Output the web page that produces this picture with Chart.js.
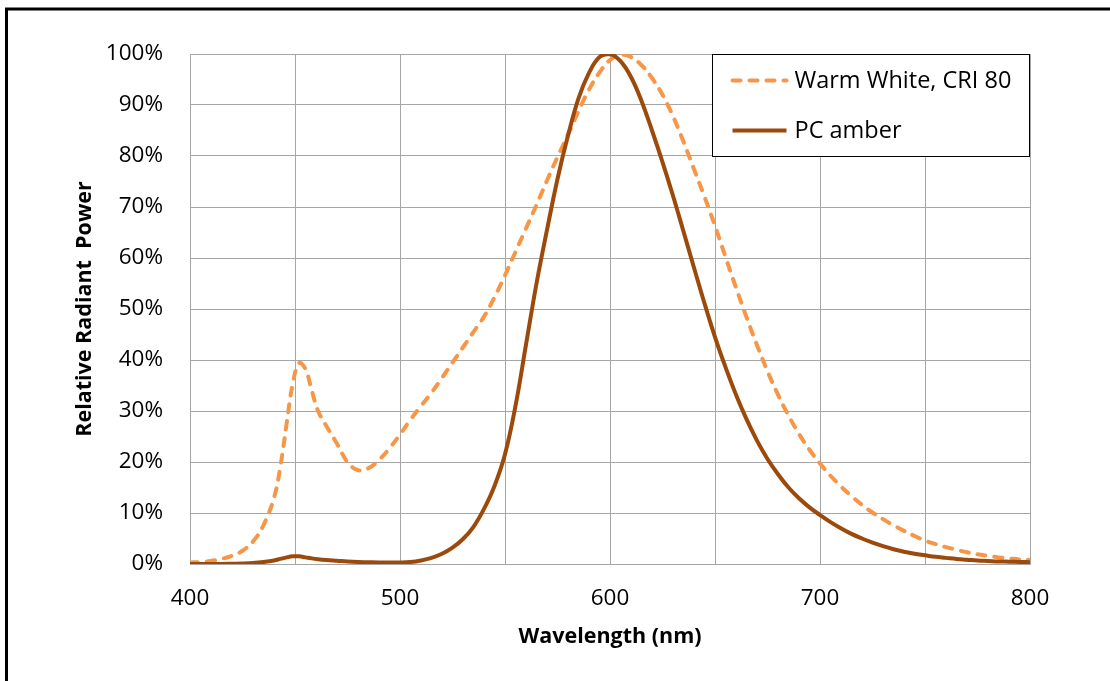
<!DOCTYPE html>
<html>
<head>
<meta charset="utf-8">
<script src="https://cdn.jsdelivr.net/npm/chart.js@4/dist/chart.umd.min.js"></script>
<style>
  html, body { margin: 0; padding: 0; background: #fff; }
  #spectrum { display: block; }
</style>
</head>
<body>
<canvas id="spectrum" width="1110" height="681"></canvas>
<script>
// wavelengths (nm) shared by both series
const wavelengths = [400, 405, 410, 415, 420, 425, 430, 435, 440, 443, 446, 449, 452, 455, 458, 461, 465,
    470, 475, 480, 485, 490, 495, 500, 505, 510, 515, 520, 525, 530, 535, 540, 545, 550, 555, 560,
    565, 570, 575, 580, 585, 590, 595, 600, 605, 610, 615, 620, 625, 630, 635, 640, 645, 650, 655,
    660, 665, 670, 675, 680, 685, 690, 695, 700, 705, 710, 715, 720, 725, 730, 735, 740, 745, 750,
    755, 760, 765, 770, 775, 780, 785, 790, 795, 800];

// relative radiant power, %
const warmWhite = [0.3, 0.4, 0.6, 1.0, 1.6, 2.6, 4.4, 7.6, 13, 19, 27.5, 35.5, 39.4, 38.2, 34, 30, 27,
    23.6, 20, 18.4, 18.8, 20.4, 22.7, 25.4, 28.3, 31, 33.6, 36.5, 39.5, 42.5, 45.5, 48.5, 52.3, 56.6, 61.2, 65.8,
    70.4, 75.2, 79.8, 84.2, 88.8, 93, 96.4, 98.8, 99.8, 99.4, 97.8, 95.3, 92, 87.8, 82.8, 77.4, 72, 66.3, 60.2,
    54.2, 48.4, 42.9, 37.8, 33.2, 29.1, 25.5, 22.4, 19.7, 17.3, 15.2, 13.3, 11.6, 10.1, 8.8, 7.6, 6.5, 5.5, 4.6,
    3.9, 3.3, 2.8, 2.3, 1.9, 1.6, 1.3, 1.1, 0.9, 0.8];

const pcAmber = [0, 0, 0, 0, 0.05, 0.1, 0.2, 0.4, 0.7, 1.0, 1.3, 1.5, 1.5, 1.3, 1.1, 0.95, 0.8,
    0.65, 0.5, 0.4, 0.35, 0.3, 0.3, 0.3, 0.4, 0.7, 1.2, 2, 3.2, 4.9, 7.3, 10.8, 15.3, 21.5, 31, 43,
    55, 65.5, 75.5, 84, 91.3, 96.3, 99.4, 100, 98.6, 95.5, 90.8, 85, 78.8, 72.2, 65.2, 58.1, 51.1, 44.5, 38.6,
    33.2, 28.4, 24.2, 20.6, 17.6, 15.0, 12.9, 11.1, 9.6, 8.2, 7.0, 5.9, 5.0, 4.2, 3.5, 2.9, 2.4, 2.0, 1.7,
    1.4, 1.2, 1.0, 0.85, 0.7, 0.6, 0.5, 0.45, 0.4, 0.35];

const seriesNames = ['Warm White, CRI 80', 'PC amber'];

const FONT = '"Open Sans", "Noto Sans", sans-serif';
const GRID = '#a6a6a6';

function toPoints(values) {
    return wavelengths.map((w, i) => ({ x: w, y: values[i] }));
}

// white page + black outer frame
const framePlugin = {
    id: 'frame',
    beforeDraw(chart) {
        const ctx = chart.ctx;
        ctx.save();
        ctx.fillStyle = '#fff';
        ctx.fillRect(0, 0, chart.width, chart.height);
        ctx.restore();
    },
    afterDraw(chart) {
        const ctx = chart.ctx;
        ctx.save();
        ctx.strokeStyle = '#000';
        ctx.lineWidth = 3;
        ctx.beginPath();
        ctx.moveTo(6.5, chart.height);
        ctx.lineTo(6.5, 9);
        ctx.lineTo(chart.width, 9);
        ctx.stroke();
        ctx.restore();
    }
};

// boxed legend in the top-right corner of the plot
const boxLegend = {
    id: 'boxLegend',
    afterDatasetsDraw(chart) {
        const ctx = chart.ctx;
        const area = chart.chartArea;
        const w = 317, h = 102;
        const x0 = Math.round(area.right) - w - 0.5;
        const y0 = Math.round(area.top) + 0.5;
        ctx.save();
        ctx.fillStyle = '#fff';
        ctx.fillRect(x0, y0, w, h);
        ctx.strokeStyle = '#000';
        ctx.lineWidth = 1;
        ctx.strokeRect(x0, y0, w, h);

        chart.data.datasets.forEach((ds, i) => {
            const y = y0 + 26 + i * 50;
            ctx.beginPath();
            ctx.strokeStyle = ds.borderColor;
            ctx.lineWidth = ds.borderWidth;
            ctx.lineCap = ds.borderCapStyle || 'butt';
            ctx.setLineDash(ds.borderDash || []);
            ctx.moveTo(x0 + 20, y);
            ctx.lineTo(x0 + 74, y);
            ctx.stroke();
            ctx.setLineDash([]);
            ctx.fillStyle = '#000';
            ctx.font = '23.5px ' + FONT;
            ctx.textBaseline = 'middle';
            ctx.textAlign = 'left';
            ctx.fillText(ds.label, x0 + 82, y + 1);
        });
        ctx.restore();
    }
};

new Chart(document.getElementById('spectrum'), {
    type: 'line',
    data: {
        datasets: [{
            label: seriesNames[0],
            data: toPoints(warmWhite),
            borderColor: '#f79646',
            borderWidth: 4,
            borderDash: [8, 9],
            borderCapStyle: 'round',
            pointRadius: 0,
            tension: 0.4,
            order: 2
        }, {
            label: seriesNames[1],
            data: toPoints(pcAmber),
            borderColor: '#9c4a0c',
            borderWidth: 4,
            pointRadius: 0,
            tension: 0.4,
            order: 1
        }]
    },
    options: {
        responsive: false,
        animation: false,
        devicePixelRatio: 1,
        layout: { padding: { top: 54, right: 80, left: 0, bottom: 0 } },
        plugins: {
            legend: { display: false },
            tooltip: { enabled: false }
        },
        scales: {
            x: {
                type: 'linear',
                min: 400,
                max: 800,
                afterFit: s => { s.height = 117; },
                grid: { color: GRID, drawTicks: false },
                border: { color: GRID },
                ticks: {
                    stepSize: 50,
                    padding: 21,
                    color: '#000',
                    font: { family: FONT, size: 22.5 },
                    callback: v => (v % 100 === 0 ? String(v) : '')
                },
                title: {
                    display: true,
                    text: 'Wavelength (nm)',
                    color: '#000',
                    font: { family: FONT, size: 21.5, weight: 'bold' },
                    padding: { bottom: 31 }
                }
            },
            y: {
                min: 0,
                max: 100,
                afterFit: s => { s.width = 190; },
                grid: { color: GRID, drawTicks: false },
                border: { color: GRID },
                ticks: {
                    stepSize: 10,
                    padding: 27,
                    color: '#000',
                    font: { family: FONT, size: 22.5 },
                    callback: v => v + '%'
                },
                title: {
                    display: true,
                    text: 'Relative Radiant  Power',
                    color: '#000',
                    font: { family: FONT, size: 21.5, weight: 'bold' },
                    padding: { top: 72 }
                }
            }
        }
    },
    plugins: [framePlugin, boxLegend]
});
</script>
</body>
</html>
